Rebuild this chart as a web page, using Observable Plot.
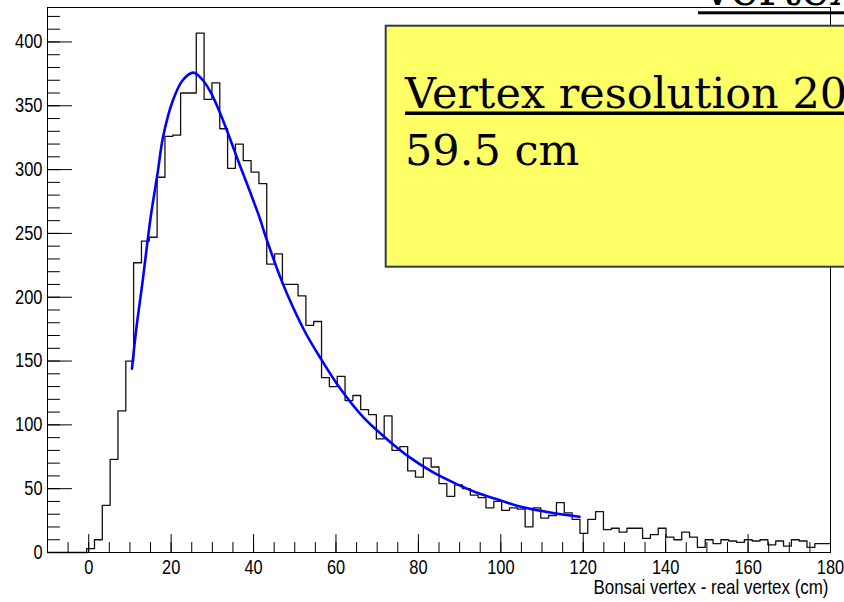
<!DOCTYPE html>
<html><head><meta charset="utf-8">
<script src="https://cdn.jsdelivr.net/npm/d3@7"></script>
<script src="https://cdn.jsdelivr.net/npm/@observablehq/plot@0.6"></script>
<style>
html,body{margin:0;padding:0;background:#fff;overflow:hidden}
#wrap{position:relative;width:844px;height:602px;overflow:hidden}
#overlay{position:absolute;left:0;top:0;pointer-events:none}
</style></head><body><div id="wrap"></div>
<script>
// Histogram: 100 bins of width 1.9 cm from -10 to 180 cm
const binStart = -10;
const binWidth = 1.9;
const counts = [
  0, 0, 0, 0, 0, 3, 10, 37, 73, 111,
  150, 227, 244, 247, 294, 326, 327, 360, 360, 407,
  355, 368, 332, 301, 320, 307, 298, 289, 226, 234,
  210, 210, 201, 178, 181, 137, 130, 138, 119, 123,
  112, 108, 89, 107, 80, 83, 64, 59, 74, 67,
  54, 44, 53, 50, 45, 43, 35, 40, 33, 35,
  34, 20, 35, 27, 29, 39, 31, 26, 15, 26,
  32, 18, 19, 16, 19, 19, 11, 14, 19, 12,
  10, 16, 12, 4, 10, 7, 10, 9, 8, 10,
  9, 10, 6, 9, 5, 10, 9, 4, 7, 7
];
// Fit curve
const fitX = [10.5, 11.5, 13.1, 15.0, 16.8, 18.0, 20.4, 22.8, 25.4, 27.7, 29.7, 31.8, 34.2, 36.6, 39.1, 41.5, 43.1, 46.8, 49.6, 52.8, 56.1, 60.9, 66.6, 72.3, 77.9, 83.6, 89.3, 94.9, 99.8, 103.9, 112, 119.1];
const fitY = [144, 174, 213, 262, 299, 325, 354, 370, 376, 370, 360, 345, 325, 304, 283, 262, 246, 213, 192, 171, 153, 129, 106, 89, 74.5, 62.7, 53.6, 46, 41, 36.6, 31.3, 28];

const xMajor = [0, 20, 40, 60, 80, 100, 120, 140, 160, 180];
const yMajor = [0, 50, 100, 150, 200, 250, 300, 350, 400];
const xMinor = d3.range(-5, 181, 5);
const yMinor = d3.range(0, 421, 10);

const xTitle = "Bonsai vertex - real vertex (cm)";
const boxLine1 = "Vertex resolution 20";
const boxLine2 = "59.5 cm";
const titleText = "Vertex resolution";

const hist = counts.map((c, i) => ({x: binStart + i * binWidth, y: c}));
hist.push({x: binStart + counts.length * binWidth, y: counts[counts.length - 1]});
const fit = fitX.map((x, i) => ({x, y: fitY[i]}));

const tickShape = {draw(ctx, l) { ctx.moveTo(0, 0); ctx.lineTo(0, -l); }};
const tickOpts = {anchor: "start", shape: tickShape, stroke: "#000", strokeWidth: 1};

const plot = Plot.plot({
  width: 844, height: 602,
  marginLeft: 47, marginRight: 14, marginTop: 7, marginBottom: 50,
  x: {domain: [-10, 180]},
  y: {domain: [0, 427]},
  style: {fontFamily: "'Liberation Sans Narrow','Liberation Sans',Arial,sans-serif", fontSize: "20px", background: "#fff", color: "#000"},
  marks: [
    Plot.line(hist, {x: "x", y: "y", curve: "step-after", stroke: "#111", strokeWidth: 1.3}),
    Plot.line(fit, {x: "x", y: "y", curve: "catmull-rom", stroke: "#0000ff", strokeWidth: 2.6}),
    Plot.vector(yMinor, {x: -10, y: d => d, length: 12, rotate: 90, ...tickOpts}),
    Plot.vector(yMajor, {x: -10, y: d => d, length: 24, rotate: 90, ...tickOpts}),
    Plot.vector(xMinor, {x: d => d, y: 0, length: 10, rotate: 0, ...tickOpts}),
    Plot.vector(xMajor, {x: d => d, y: 0, length: 18, rotate: 0, ...tickOpts}),
    Plot.axisY({ticks: yMajor, tickSize: 0, tickPadding: 5, label: null}),
    Plot.axisX({ticks: xMajor, tickSize: 0, tickPadding: 7, label: null}),
    Plot.text([xTitle], {frameAnchor: "bottom-right", text: d => d, textAnchor: "end", lineAnchor: "bottom", dy: 41, dx: -2, fontSize: 21}),
    Plot.frame({stroke: "#000"})
  ]
});
document.getElementById("wrap").appendChild(plot);

// Condense the Helvetica-like labels, as the original ROOT fonts are narrow
d3.select(plot).selectAll("text").each(function () {
  const t = this.textContent;
  if (t === xTitle) {
    this.setAttribute("textLength", 235);
    this.setAttribute("lengthAdjust", "spacingAndGlyphs");
  } else if (/^\d+$/.test(t)) {
    const w = this.getComputedTextLength();
    this.setAttribute("textLength", (w * 0.82).toFixed(1));
    this.setAttribute("lengthAdjust", "spacingAndGlyphs");
  }
});

const svg = d3.select("#wrap").append("svg").attr("id", "overlay").attr("width", 844).attr("height", 602);
const serif = "'DejaVu Serif', serif";
svg.append("text").attr("x", 700).attr("y", 5).attr("font-family", serif).attr("font-size", 48).attr("fill", "#000").text(titleText);
svg.append("rect").attr("x", 698).attr("y", 11.3).attr("width", 200).attr("height", 3).attr("fill", "#000");
svg.append("rect").attr("x", 385.7).attr("y", 25.7).attr("width", 480).attr("height", 241).attr("fill", "#ffff66").attr("stroke", "#2f3d42").attr("stroke-width", 2);
svg.append("text").attr("x", 405).attr("y", 108).attr("font-family", serif).attr("font-size", 43).attr("fill", "#000").text(boxLine1);
svg.append("rect").attr("x", 405).attr("y", 111.5).attr("width", 460).attr("height", 3.5).attr("fill", "#000");
svg.append("text").attr("x", 405).attr("y", 165).attr("font-family", serif).attr("font-size", 43).attr("fill", "#000").text(boxLine2);
</script></body></html>
